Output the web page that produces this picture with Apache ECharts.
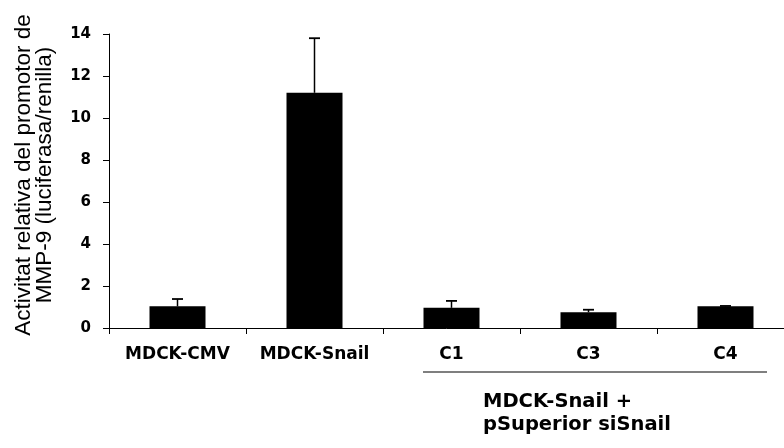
<!DOCTYPE html>
<html>
<head>
<meta charset="utf-8">
<script src="https://cdn.jsdelivr.net/npm/echarts@6/dist/echarts.min.js"></script>
<style>
  html, body { margin: 0; padding: 0; background: #fff; }
  #chart { width: 784px; height: 448px; }
</style>
</head>
<body>
<div id="chart"></div>
<script>
// ---- data ----
const categories = ['MDCK-CMV', 'MDCK-Snail', 'C1', 'C3', 'C4'];
const means = [1.03, 11.2, 0.96, 0.75, 1.03];
const errUpper = [0.35, 2.6, 0.33, 0.12, 0.02];
const yMin = 0;
const yMax = 14;
const yStep = 2;
const yTitle = 'Activitat relativa del promotor de\nMMP-9 (luciferasa/renilla)';
const groupLabel = ['MDCK-Snail +', 'pSuperior siSnail'];
const groupedCats = ['C1', 'C4'];

const chart = echarts.init(document.getElementById('chart'), null, { renderer: 'canvas' });

const errData = categories.map((c, i) => [i, means[i] + errUpper[i], means[i]]);

const option = {
  animation: false,
  backgroundColor: '#ffffff',
  grid: { left: 109, top: 34, width: 685, height: 294, containLabel: false, outerBoundsMode: 'none' },
  xAxis: {
    type: 'category',
    data: categories,
    boundaryGap: true,
    axisLine: { show: true, lineStyle: { color: '#000', width: 1 } },
    axisTick: { show: true, alignWithLabel: false, length: 6, lineStyle: { color: '#000', width: 1 } },
    axisLabel: {
      show: true, margin: 18, color: '#000',
      fontFamily: 'DejaVu Sans', fontWeight: 'bold', fontSize: 17, interval: 0
    },
    splitLine: { show: false }
  },
  yAxis: {
    type: 'value',
    min: yMin, max: yMax, interval: yStep,
    axisLine: { show: true, lineStyle: { color: '#000', width: 1 } },
    axisTick: { show: true, length: 6, lineStyle: { color: '#000', width: 1 } },
    axisLabel: {
      show: true, margin: 18, color: '#000',
      fontFamily: 'DejaVu Sans', fontWeight: 'bold', fontSize: 15
    },
    splitLine: { show: false }
  },
  series: [
    {
      type: 'bar',
      data: means,
      barWidth: 56,
      itemStyle: { color: '#000' },
      z: 2
    },
    {
      type: 'custom',
      data: errData,
      encode: { x: 0, y: 1 },
      z: 3,
      renderItem: function (params, api) {
        const idx = api.value(0);
        const top = api.coord([idx, api.value(1)]);
        const base = api.coord([idx, api.value(2)]);
        const half = 5.5;
        return {
          type: 'group',
          children: [
            { type: 'line', shape: { x1: top[0], y1: base[1], x2: top[0], y2: top[1] },
              style: { stroke: '#000', lineWidth: 1.5 } },
            { type: 'line', shape: { x1: top[0] - half, y1: top[1], x2: top[0] + half, y2: top[1] },
              style: { stroke: '#000', lineWidth: 1.8 } }
          ]
        };
      }
    }
  ]
};
chart.setOption(option);

// annotations: y title, group bracket and group label
const pStart = chart.convertToPixel({ xAxisIndex: 0 }, groupedCats[0]);
const pEnd = chart.convertToPixel({ xAxisIndex: 0 }, groupedCats[1]);
const axisY = chart.convertToPixel({ yAxisIndex: 0 }, 0);

chart.setOption({
  graphic: [
    {
      type: 'text',
      x: 34.5, y: 175,
      rotation: Math.PI / 2,
      style: {
        text: yTitle,
        fill: '#000',
        fontFamily: 'Liberation Sans',
        fontSize: 22.5,
        lineHeight: 21.5,
        align: 'center',
        verticalAlign: 'middle'
      }
    },
    {
      type: 'line',
      shape: { x1: pStart - 28.5, y1: axisY + 44, x2: pEnd + 41.5, y2: axisY + 44 },
      style: { stroke: '#000', lineWidth: 1.2 }
    },
    {
      type: 'text',
      x: 483, y: 402,
      style: {
        text: groupLabel[0], fill: '#000',
        fontFamily: 'DejaVu Sans', fontWeight: 'bold', fontSize: 19.5,
        align: 'left', verticalAlign: 'middle'
      }
    },
    {
      type: 'text',
      x: 483, y: 425,
      style: {
        text: groupLabel[1], fill: '#000',
        fontFamily: 'DejaVu Sans', fontWeight: 'bold', fontSize: 19.5,
        align: 'left', verticalAlign: 'middle'
      }
    }
  ]
});
</script>
</body>
</html>
